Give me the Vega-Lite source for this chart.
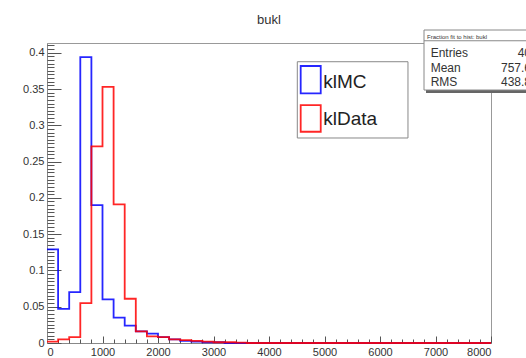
{
  "$schema": "https://vega.github.io/schema/vega-lite/v6.json",
  "width": 444,
  "height": 300,
  "autosize": {"type": "none"},
  "padding": {"left": 47, "top": 43, "right": 35, "bottom": 15},
  "background": "white",
  "config": {
    "view": {"stroke": "#999", "strokeWidth": 1},
    "axis": {"grid": false, "title": null, "domainColor": "#888", "tickColor": "#555", "labelFont": "Liberation Sans", "labelFontSize": 11, "labelColor": "#333"}
  },
  "datasets": {
    "hist": [
      {"x": 0, "v": 0.129, "s": "klMC"},
      {"x": 200, "v": 0.047, "s": "klMC"},
      {"x": 400, "v": 0.070, "s": "klMC"},
      {"x": 600, "v": 0.394, "s": "klMC"},
      {"x": 800, "v": 0.190, "s": "klMC"},
      {"x": 1000, "v": 0.060, "s": "klMC"},
      {"x": 1200, "v": 0.035, "s": "klMC"},
      {"x": 1400, "v": 0.024, "s": "klMC"},
      {"x": 1600, "v": 0.016, "s": "klMC"},
      {"x": 1800, "v": 0.013, "s": "klMC"},
      {"x": 2000, "v": 0.008, "s": "klMC"},
      {"x": 2200, "v": 0.005, "s": "klMC"},
      {"x": 2400, "v": 0.003, "s": "klMC"},
      {"x": 2600, "v": 0.002, "s": "klMC"},
      {"x": 2800, "v": 0.001, "s": "klMC"},
      {"x": 3000, "v": 0.001, "s": "klMC"},
      {"x": 3200, "v": 0, "s": "klMC"},
      {"x": 8000, "v": 0, "s": "klMC"},
      {"x": 0, "v": 0.002, "s": "klData"},
      {"x": 200, "v": 0.005, "s": "klData"},
      {"x": 400, "v": 0.008, "s": "klData"},
      {"x": 600, "v": 0.055, "s": "klData"},
      {"x": 800, "v": 0.271, "s": "klData"},
      {"x": 1000, "v": 0.353, "s": "klData"},
      {"x": 1200, "v": 0.191, "s": "klData"},
      {"x": 1400, "v": 0.061, "s": "klData"},
      {"x": 1600, "v": 0.016, "s": "klData"},
      {"x": 1800, "v": 0.009, "s": "klData"},
      {"x": 2000, "v": 0.008, "s": "klData"},
      {"x": 2200, "v": 0.005, "s": "klData"},
      {"x": 2400, "v": 0.004, "s": "klData"},
      {"x": 2600, "v": 0.003, "s": "klData"},
      {"x": 2800, "v": 0.002, "s": "klData"},
      {"x": 3000, "v": 0.001, "s": "klData"},
      {"x": 3200, "v": 0.001, "s": "klData"},
      {"x": 3400, "v": 0.0005, "s": "klData"},
      {"x": 3600, "v": 0, "s": "klData"},
      {"x": 8000, "v": 0, "s": "klData"}
    ],
    "one": [{"k": 1}]
  },
  "resolve": {"axis": {"x": "independent", "y": "independent"}},
  "layer": [
    {
      "data": {"name": "hist"},
      "mark": {"type": "line", "interpolate": "step-after", "strokeWidth": 1.8, "opacity": 0.85},
      "encoding": {
        "x": {"field": "x", "type": "quantitative", "scale": {"domain": [0, 8000], "nice": false, "zero": false},
              "axis": {"orient": "bottom", "values": [0,1000,2000,3000,4000,5000,6000,7000,8000], "format": "d", "tickSize": -7, "labelPadding": 10}},
        "y": {"field": "v", "type": "quantitative", "scale": {"domain": [0, 0.4134], "nice": false},
              "axis": {"orient": "left", "values": [0,0.05,0.1,0.15,0.2,0.25,0.3,0.35,0.4], "format": "~g", "tickSize": -14, "labelPadding": 17}},
        "color": {"field": "s", "type": "nominal", "scale": {"domain": ["klMC", "klData"], "range": ["#0000ff", "#ff0000"]}, "legend": null}
      }
    },
    {
      "data": {"name": "hist"},
      "mark": {"type": "line", "strokeOpacity": 0},
      "encoding": {
        "x": {"field": "x", "type": "quantitative",
              "axis": {"orient": "bottom", "values": [200,400,600,800,1200,1400,1600,1800,2200,2400,2600,2800,3200,3400,3600,3800,4200,4400,4600,4800,5200,5400,5600,5800,6200,6400,6600,6800,7200,7400,7600,7800], "tickSize": -4, "labels": false, "domain": false}},
        "y": {"field": "v", "type": "quantitative",
              "axis": {"orient": "left", "values": [0.005,0.01,0.015,0.02,0.025,0.03,0.035,0.04,0.045,0.055,0.06,0.065,0.07,0.075,0.08,0.085,0.09,0.095,0.105,0.11,0.115,0.12,0.125,0.13,0.135,0.14,0.145,0.155,0.16,0.165,0.17,0.175,0.18,0.185,0.19,0.195,0.205,0.21,0.215,0.22,0.225,0.23,0.235,0.24,0.245,0.255,0.26,0.265,0.27,0.275,0.28,0.285,0.29,0.295,0.305,0.31,0.315,0.32,0.325,0.33,0.335,0.34,0.345,0.355,0.36,0.365,0.37,0.375,0.38,0.385,0.39,0.395,0.405,0.41], "tickSize": -7, "labels": false, "domain": false}}
      }
    },
    {
      "data": {"name": "one"},
      "mark": {"type": "text", "text": "bukl", "align": "center", "baseline": "alphabetic", "font": "Liberation Sans", "fontSize": 13, "color": "#333", "clip": false},
      "encoding": {
        "x": {"datum": 4000, "type": "quantitative", "axis": null},
        "y": {"datum": 0.4402, "type": "quantitative", "axis": null}
      }
    },
    {
      "data": {"name": "one"},
      "mark": {"type": "rect", "fill": "white", "stroke": "#888", "strokeWidth": 1},
      "encoding": {
        "x": {"datum": 4510, "type": "quantitative", "axis": null},
        "x2": {"datum": 6504},
        "y": {"datum": 0.3876, "type": "quantitative", "axis": null},
        "y2": {"datum": 0.2825}
      }
    },
    {
      "data": {"name": "one"},
      "mark": {"type": "rect", "fillOpacity": 0, "stroke": "#0000ff", "strokeWidth": 1.8, "strokeOpacity": 0.85},
      "encoding": {
        "x": {"datum": 4571, "type": "quantitative", "axis": null},
        "x2": {"datum": 4932},
        "y": {"datum": 0.3817, "type": "quantitative", "axis": null},
        "y2": {"datum": 0.3441}
      }
    },
    {
      "data": {"name": "one"},
      "mark": {"type": "rect", "fillOpacity": 0, "stroke": "#ff0000", "strokeWidth": 1.8, "strokeOpacity": 0.85},
      "encoding": {
        "x": {"datum": 4571, "type": "quantitative", "axis": null},
        "x2": {"datum": 4932},
        "y": {"datum": 0.3279, "type": "quantitative", "axis": null},
        "y2": {"datum": 0.2911}
      }
    },
    {
      "data": {"name": "one"},
      "mark": {"type": "text", "text": "klMC", "align": "left", "baseline": "middle", "font": "Liberation Sans", "fontSize": 19, "color": "#222"},
      "encoding": {
        "x": {"datum": 4978, "type": "quantitative", "axis": null},
        "y": {"datum": 0.3600, "type": "quantitative", "axis": null}
      }
    },
    {
      "data": {"name": "one"},
      "mark": {"type": "text", "text": "klData", "align": "left", "baseline": "middle", "font": "Liberation Sans", "fontSize": 19, "color": "#222"},
      "encoding": {
        "x": {"datum": 4978, "type": "quantitative", "axis": null},
        "y": {"datum": 0.3086, "type": "quantitative", "axis": null}
      }
    },
    {
      "data": {"name": "one"},
      "mark": {"type": "rect", "fill": "#666", "clip": false},
      "encoding": {
        "x": {"datum": 6829, "type": "quantitative", "axis": null},
        "x2": {"datum": 9009},
        "y": {"datum": 0.4272, "type": "quantitative", "axis": null},
        "y2": {"datum": 0.3445}
      }
    },
    {
      "data": {"name": "one"},
      "mark": {"type": "rect", "fill": "white", "stroke": "#888", "strokeWidth": 1, "clip": false},
      "encoding": {
        "x": {"datum": 6793, "type": "quantitative", "axis": null},
        "x2": {"datum": 8973},
        "y": {"datum": 0.4313, "type": "quantitative", "axis": null},
        "y2": {"datum": 0.3486}
      }
    },
    {
      "data": {"name": "one"},
      "mark": {"type": "rule", "stroke": "#888", "strokeWidth": 1, "clip": false},
      "encoding": {
        "x": {"datum": 6793, "type": "quantitative", "axis": null},
        "x2": {"datum": 8973},
        "y": {"datum": 0.4165, "type": "quantitative", "axis": null}
      }
    },
    {
      "data": {"name": "one"},
      "mark": {"type": "text", "text": "Fraction fit to hist: bukl", "align": "left", "baseline": "middle", "font": "Liberation Sans", "fontSize": 6, "color": "#333", "clip": false},
      "encoding": {
        "x": {"datum": 6847, "type": "quantitative", "axis": null},
        "y": {"datum": 0.4216, "type": "quantitative", "axis": null}
      }
    },
    {
      "data": {"name": "one"},
      "mark": {"type": "text", "text": "Entries", "align": "left", "baseline": "middle", "font": "Liberation Sans", "fontSize": 12, "color": "#333", "clip": false},
      "encoding": {
        "x": {"datum": 6913, "type": "quantitative", "axis": null},
        "y": {"datum": 0.4000, "type": "quantitative", "axis": null}
      }
    },
    {
      "data": {"name": "one"},
      "mark": {"type": "text", "text": "Mean", "align": "left", "baseline": "middle", "font": "Liberation Sans", "fontSize": 12, "color": "#333", "clip": false},
      "encoding": {
        "x": {"datum": 6913, "type": "quantitative", "axis": null},
        "y": {"datum": 0.3793, "type": "quantitative", "axis": null}
      }
    },
    {
      "data": {"name": "one"},
      "mark": {"type": "text", "text": "RMS", "align": "left", "baseline": "middle", "font": "Liberation Sans", "fontSize": 12, "color": "#333", "clip": false},
      "encoding": {
        "x": {"datum": 6913, "type": "quantitative", "axis": null},
        "y": {"datum": 0.3600, "type": "quantitative", "axis": null}
      }
    },
    {
      "data": {"name": "one"},
      "mark": {"type": "text", "text": "40", "align": "right", "baseline": "middle", "font": "Liberation Sans", "fontSize": 12, "color": "#333", "clip": false},
      "encoding": {
        "x": {"datum": 8721, "type": "quantitative", "axis": null},
        "y": {"datum": 0.4000, "type": "quantitative", "axis": null}
      }
    },
    {
      "data": {"name": "one"},
      "mark": {"type": "text", "text": "757.6", "align": "right", "baseline": "middle", "font": "Liberation Sans", "fontSize": 12, "color": "#333", "clip": false},
      "encoding": {
        "x": {"datum": 8721, "type": "quantitative", "axis": null},
        "y": {"datum": 0.3793, "type": "quantitative", "axis": null}
      }
    },
    {
      "data": {"name": "one"},
      "mark": {"type": "text", "text": "438.8", "align": "right", "baseline": "middle", "font": "Liberation Sans", "fontSize": 12, "color": "#333", "clip": false},
      "encoding": {
        "x": {"datum": 8721, "type": "quantitative", "axis": null},
        "y": {"datum": 0.3600, "type": "quantitative", "axis": null}
      }
    }
  ]
}
